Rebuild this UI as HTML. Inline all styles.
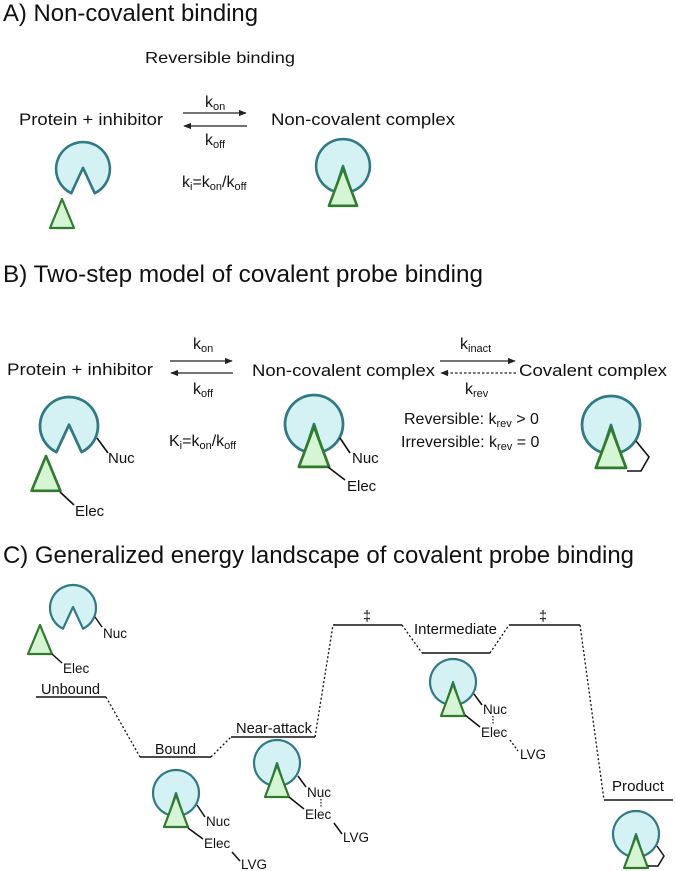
<!DOCTYPE html>
<html><head><meta charset="utf-8"><style>
html,body{margin:0;padding:0;background:#fff}
svg{display:block;font-family:"Liberation Sans",sans-serif;fill:#111}
</style></head><body>
<svg width="675" height="871" viewBox="0 0 675 871" xmlns="http://www.w3.org/2000/svg">
<defs>
<marker id="ah" viewBox="0 0 10 10" refX="9" refY="5" markerWidth="6" markerHeight="6" orient="auto-start-reverse"><path d="M0,1 L10,5 L0,9 Z" fill="#222"/></marker>
<g id="po"><path d="M-10,20.7 A23 23 0 1 1 10,20.7 L0,-1 Z" fill="#d4f2f4" stroke="#2f7a86" stroke-width="2.2" stroke-linejoin="round"/></g>
<g id="pc"><path d="M-7,21.9 A23 23 0 1 1 7,21.9 L0,0 Z" fill="#d4f2f4" stroke="#2f7a86" stroke-width="2.2" stroke-linejoin="round"/><path d="M0,2 L-12,34 L12,34 Z" fill="#d6f5d4" stroke="#2f7d2c" stroke-width="2.2" stroke-linejoin="round"/></g>
<g id="tri"><path d="M0,0 L-12,29 L12,29 Z" fill="#d6f5d4" stroke="#2f7d2c" stroke-width="2.2" stroke-linejoin="round"/></g>
</defs>

<!-- A -->
<text x="3" y="21" font-size="24" textLength="255" lengthAdjust="spacingAndGlyphs">A) Non-covalent binding</text>
<text x="145" y="63" font-size="16" textLength="150" lengthAdjust="spacingAndGlyphs">Reversible binding</text>
<text x="19" y="125" font-size="17" textLength="144" lengthAdjust="spacingAndGlyphs">Protein + inhibitor</text>
<text x="271" y="125" font-size="17" textLength="184" lengthAdjust="spacingAndGlyphs">Non-covalent complex</text>
<line x1="183" y1="113" x2="246" y2="113" stroke="#222" stroke-width="1.3" marker-end="url(#ah)"/>
<line x1="247" y1="126" x2="184" y2="126" stroke="#222" stroke-width="1.3" marker-end="url(#ah)"/>
<text x="205" y="107" font-size="16">k<tspan font-size="11" dy="3">on</tspan></text>
<text x="205" y="145" font-size="16">k<tspan font-size="11" dy="3">off</tspan></text>
<text x="182" y="187" font-size="16">k<tspan font-size="11" dy="3">i</tspan><tspan dy="-3">=k</tspan><tspan font-size="11" dy="3">on</tspan><tspan dy="-3">/k</tspan><tspan font-size="11" dy="3">off</tspan></text>
<use href="#po" transform="translate(83,169) scale(1.17)"/>
<use href="#tri" transform="translate(62,199)"/>
<use href="#pc" transform="translate(343,166) scale(1.17)"/>

<!-- B -->
<text x="3" y="282" font-size="24" textLength="480" lengthAdjust="spacingAndGlyphs">B) Two-step model of covalent probe binding</text>
<text x="7" y="375" font-size="17" textLength="146" lengthAdjust="spacingAndGlyphs">Protein + inhibitor</text>
<text x="252" y="376" font-size="17" textLength="183" lengthAdjust="spacingAndGlyphs">Non-covalent complex</text>
<text x="519" y="376" font-size="17" textLength="148" lengthAdjust="spacingAndGlyphs">Covalent complex</text>
<line x1="170" y1="361" x2="232" y2="361" stroke="#222" stroke-width="1.3" marker-end="url(#ah)"/>
<line x1="233" y1="373" x2="171" y2="373" stroke="#222" stroke-width="1.3" marker-end="url(#ah)"/>
<line x1="440" y1="361" x2="515" y2="361" stroke="#222" stroke-width="1.3" marker-end="url(#ah)"/>
<line x1="516" y1="373" x2="441" y2="373" stroke="#222" stroke-width="1.3" stroke-dasharray="2.5,2" marker-end="url(#ah)"/>
<text x="193" y="349" font-size="16">k<tspan font-size="11" dy="3">on</tspan></text>
<text x="193" y="394" font-size="16">k<tspan font-size="11" dy="3">off</tspan></text>
<text x="460" y="349" font-size="16">k<tspan font-size="11" dy="3">inact</tspan></text>
<text x="465" y="394" font-size="16">k<tspan font-size="11" dy="3">rev</tspan></text>
<text x="169" y="446" font-size="16">K<tspan font-size="11" dy="3">i</tspan><tspan dy="-3">=k</tspan><tspan font-size="11" dy="3">on</tspan><tspan dy="-3">/k</tspan><tspan font-size="11" dy="3">off</tspan></text>
<text x="404" y="424" font-size="16">Reversible: k<tspan font-size="11" dy="3">rev</tspan><tspan dy="-3"> &gt; 0</tspan></text>
<text x="401" y="447" font-size="16">Irreversible: k<tspan font-size="11" dy="3">rev</tspan><tspan dy="-3"> = 0</tspan></text>
<use href="#po" transform="translate(69,426) scale(1.26)"/>
<use href="#tri" transform="translate(46,456) scale(1.2)"/>
<line x1="97" y1="438" x2="108" y2="453" stroke="#111" stroke-width="1.6"/>
<text x="108" y="463" font-size="15">Nuc</text>
<line x1="60" y1="492" x2="74" y2="505" stroke="#111" stroke-width="1.6"/>
<text x="75" y="516" font-size="15">Elec</text>
<use href="#pc" transform="translate(314,424) scale(1.26)"/>
<line x1="340" y1="438" x2="350" y2="453" stroke="#111" stroke-width="1.6"/>
<text x="352" y="463" font-size="15">Nuc</text>
<line x1="328" y1="467" x2="345" y2="480" stroke="#111" stroke-width="1.6"/>
<text x="347" y="491" font-size="15">Elec</text>
<use href="#pc" transform="translate(611,425) scale(1.26)"/>
<polyline points="636,441 649,457 641,471 627,471" fill="none" stroke="#111" stroke-width="1.6"/>

<!-- C -->
<text x="3" y="563" font-size="24" textLength="631" lengthAdjust="spacingAndGlyphs">C) Generalized energy landscape of covalent probe binding</text>
<g stroke="#111" stroke-width="1.5" fill="none">
<line x1="36" y1="697" x2="106" y2="697"/>
<line x1="140" y1="757" x2="211" y2="757"/>
<line x1="231" y1="737" x2="315" y2="737"/>
<line x1="333" y1="625" x2="402" y2="625"/>
<line x1="422" y1="653" x2="490" y2="653"/>
<line x1="509" y1="625" x2="580" y2="625"/>
<line x1="604" y1="800" x2="673" y2="800"/>
<g stroke-dasharray="2,2.2" stroke-width="1.3">
<line x1="106" y1="697" x2="140" y2="757"/>
<line x1="211" y1="757" x2="231" y2="737"/>
<line x1="315" y1="737" x2="333" y2="625"/>
<line x1="402" y1="625" x2="422" y2="653"/>
<line x1="490" y1="653" x2="509" y2="625"/>
<line x1="580" y1="625" x2="604" y2="800"/>
</g>
</g>
<g font-size="14.5">
<text x="41" y="694" textLength="59" lengthAdjust="spacingAndGlyphs">Unbound</text>
<text x="155" y="754" textLength="41" lengthAdjust="spacingAndGlyphs">Bound</text>
<text x="236" y="733" textLength="76" lengthAdjust="spacingAndGlyphs">Near-attack</text>
<text x="414" y="634" textLength="83" lengthAdjust="spacingAndGlyphs">Intermediate</text>
<text x="612" y="791" textLength="52" lengthAdjust="spacingAndGlyphs">Product</text>
<text x="363" y="621">‡</text>
<text x="539" y="621">‡</text>
</g>
<g font-size="13.5">
<use href="#po" transform="translate(73,608)"/>
<use href="#tri" transform="translate(40,625)"/>
<line x1="95" y1="617" x2="102" y2="627" stroke="#111" stroke-width="1.5"/>
<text x="103" y="638">Nuc</text>
<line x1="52" y1="654" x2="62" y2="663" stroke="#111" stroke-width="1.5"/>
<text x="63" y="673">Elec</text>
<use href="#pc" transform="translate(176,793)"/>
<line x1="197" y1="805" x2="205" y2="817" stroke="#111" stroke-width="1.5"/>
<text x="206" y="826">Nuc</text>
<line x1="188" y1="828" x2="203" y2="839" stroke="#111" stroke-width="1.5"/>
<text x="204" y="848">Elec</text>
<line x1="232" y1="852" x2="240" y2="861" stroke="#111" stroke-width="1.5"/>
<text x="241" y="869">LVG</text>
<use href="#pc" transform="translate(277,763)"/>
<line x1="298" y1="776" x2="306" y2="787" stroke="#111" stroke-width="1.5"/>
<text x="307" y="797">Nuc</text>
<line x1="321" y1="799" x2="321" y2="808" stroke="#111" stroke-width="1.2" stroke-dasharray="1.5,1.5"/>
<line x1="289" y1="797" x2="304" y2="809" stroke="#111" stroke-width="1.5"/>
<text x="305" y="819">Elec</text>
<line x1="334" y1="823" x2="342" y2="834" stroke="#111" stroke-width="1.5"/>
<text x="343" y="842">LVG</text>
<use href="#pc" transform="translate(453,682)"/>
<line x1="474" y1="694" x2="482" y2="705" stroke="#111" stroke-width="1.5"/>
<text x="483" y="714">Nuc</text>
<line x1="493" y1="716" x2="493" y2="724" stroke="#111" stroke-width="1.2" stroke-dasharray="1.5,1.5"/>
<line x1="465" y1="715" x2="480" y2="727" stroke="#111" stroke-width="1.5"/>
<text x="481" y="737">Elec</text>
<line x1="510" y1="740" x2="518" y2="751" stroke="#111" stroke-width="1.3" stroke-dasharray="2,2"/>
<text x="520" y="759">LVG</text>
<use href="#pc" transform="translate(636,834)"/>
<polyline points="657,846 664,856 658,866 648,866" fill="none" stroke="#111" stroke-width="1.5"/>
</g>
</svg>
</body></html>
